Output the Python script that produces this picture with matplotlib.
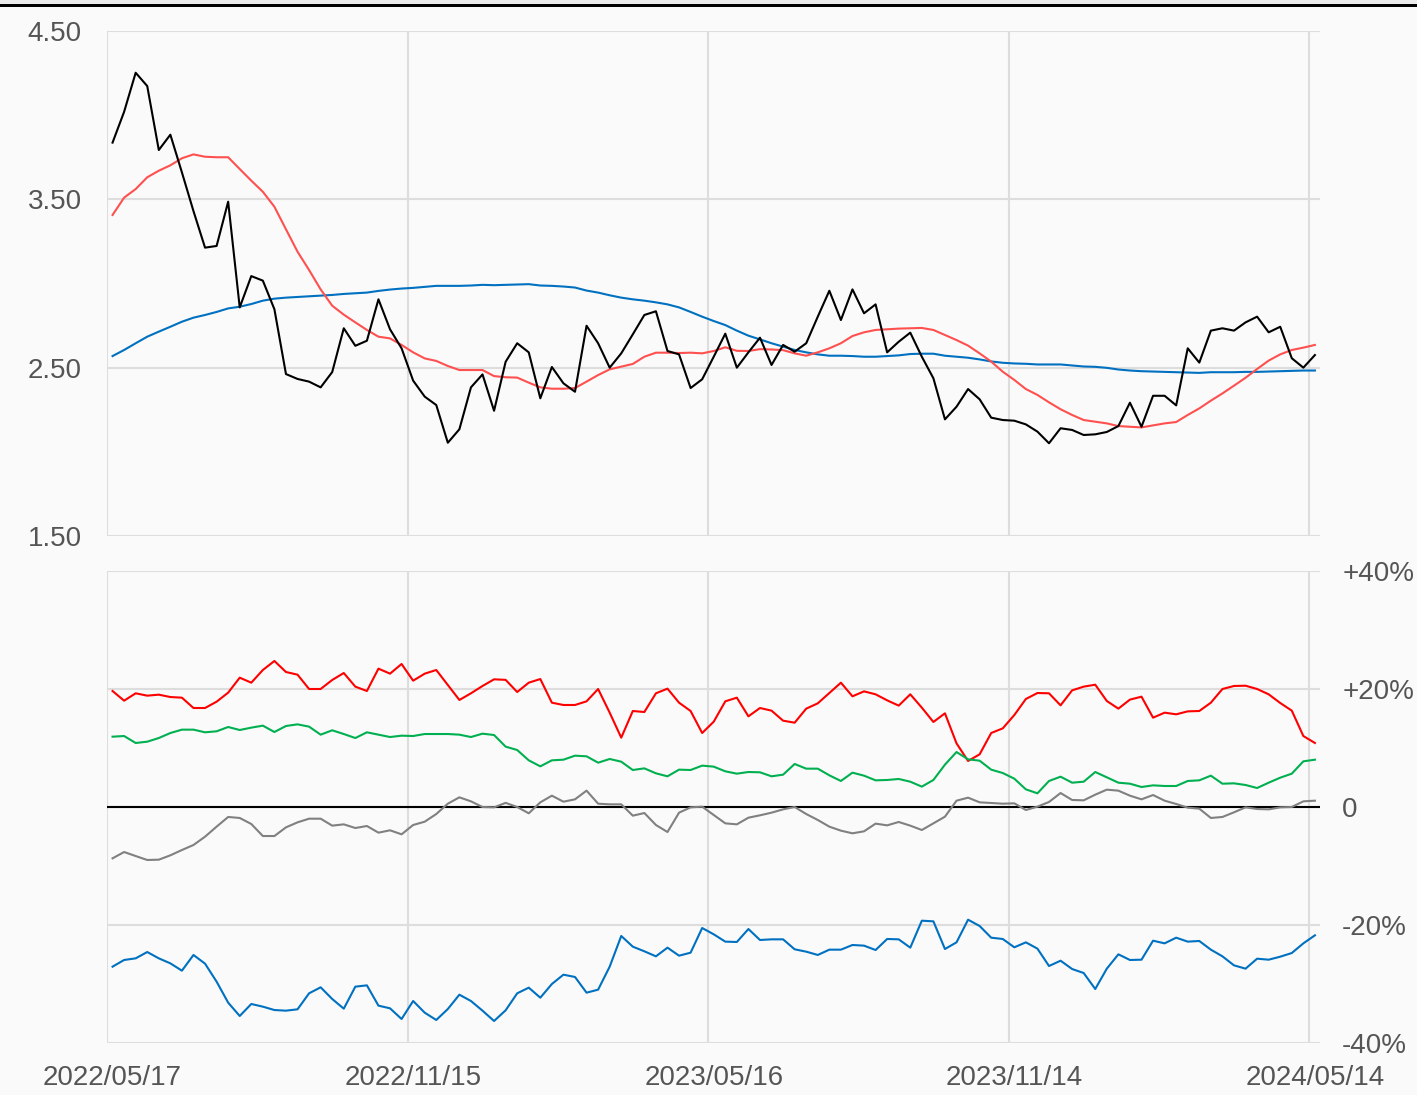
import matplotlib
matplotlib.use("Agg")
import matplotlib.pyplot as plt
import numpy as np

plt.rcParams['font.family'] = ['Liberation Sans', 'DejaVu Sans']

# weekly closes and moving averages (top panel)
price = [3.837, 4.02, 4.252, 4.173, 3.793, 3.884, 3.66, 3.43, 3.213, 3.223,
         3.486, 2.858, 3.044, 3.017, 2.847, 2.462, 2.433, 2.417, 2.383, 2.474,
         2.734, 2.630, 2.66, 2.906, 2.728, 2.615, 2.423, 2.328, 2.278, 2.054,
         2.134, 2.383, 2.46, 2.244, 2.535, 2.645, 2.591, 2.318, 2.504, 2.407,
         2.357, 2.749, 2.645, 2.50, 2.585, 2.698, 2.813, 2.835, 2.599, 2.579,
         2.379, 2.431, 2.565, 2.702, 2.50, 2.591, 2.678, 2.516, 2.635, 2.595,
         2.645, 2.803, 2.957, 2.783, 2.965, 2.823, 2.876, 2.591, 2.654, 2.708,
         2.565, 2.437, 2.193, 2.268, 2.373, 2.312, 2.203, 2.189, 2.185, 2.163,
         2.120, 2.051, 2.14, 2.130, 2.10, 2.104, 2.118, 2.153, 2.292, 2.149,
         2.333, 2.333, 2.276, 2.615, 2.53, 2.72, 2.734, 2.72, 2.769, 2.803,
         2.71, 2.743, 2.556, 2.50, 2.575]
ma_short = [3.407, 3.51, 3.561, 3.631, 3.67, 3.702, 3.744, 3.767, 3.753, 3.75,
            3.75, 3.68, 3.611, 3.545, 3.456, 3.322, 3.189, 3.08, 2.965, 2.868,
            2.815, 2.769, 2.724, 2.684, 2.674, 2.635, 2.591, 2.555, 2.54, 2.51,
            2.486, 2.486, 2.486, 2.45, 2.443, 2.441, 2.411, 2.383, 2.375, 2.375,
            2.379, 2.417, 2.456, 2.49, 2.506, 2.522, 2.565, 2.589, 2.589, 2.587,
            2.589, 2.585, 2.599, 2.621, 2.60, 2.599, 2.61, 2.608, 2.604, 2.585,
            2.571, 2.591, 2.615, 2.645, 2.688, 2.71, 2.724, 2.728, 2.732, 2.734,
            2.736, 2.724, 2.694, 2.664, 2.631, 2.585, 2.536, 2.476, 2.427, 2.373,
            2.338, 2.294, 2.253, 2.219, 2.189, 2.179, 2.169, 2.153, 2.149, 2.145,
            2.157, 2.169, 2.177, 2.219, 2.258, 2.304, 2.347, 2.393, 2.44, 2.492,
            2.542, 2.579, 2.605, 2.619, 2.635]
ma_long = [2.569, 2.605, 2.645, 2.684, 2.714, 2.743, 2.773, 2.797, 2.813, 2.831,
           2.852, 2.862, 2.878, 2.898, 2.91, 2.916, 2.92, 2.924, 2.928, 2.932,
           2.938, 2.942, 2.946, 2.956, 2.964, 2.97, 2.974, 2.98, 2.986, 2.986,
           2.986, 2.988, 2.992, 2.99, 2.992, 2.994, 2.996, 2.988, 2.986, 2.982,
           2.976, 2.958, 2.946, 2.930, 2.916, 2.906, 2.898, 2.888, 2.876, 2.858,
           2.831, 2.803, 2.777, 2.753, 2.72, 2.69, 2.668, 2.645, 2.625, 2.605,
           2.591, 2.579, 2.571, 2.571, 2.569, 2.565, 2.565, 2.569, 2.573, 2.581,
           2.583, 2.583, 2.571, 2.565, 2.559, 2.549, 2.537, 2.529, 2.525, 2.523,
           2.519, 2.519, 2.519, 2.513, 2.507, 2.505, 2.499, 2.489, 2.483, 2.479,
           2.477, 2.475, 2.473, 2.471, 2.469, 2.473, 2.473, 2.473, 2.475, 2.475,
           2.477, 2.479, 2.481, 2.483, 2.483]

# deviation series in percent (bottom panel)
dev_red = [19.66, 18.02, 19.27, 18.87, 19.04, 18.64, 18.53, 16.78, 16.78, 17.85,
           19.38, 21.92, 21.07, 23.22, 24.75, 22.88, 22.43, 20.0, 20.0, 21.53,
           22.71, 20.4, 19.66, 23.45, 22.6, 24.24, 21.41, 22.6, 23.22, 20.68,
           18.14, 19.27, 20.51, 21.64, 21.55, 19.49, 21.07, 21.69, 17.68, 17.29,
           17.29, 17.91, 20.0, 15.99, 11.75, 16.27, 16.1, 19.27, 20.06, 17.68,
           16.27, 12.54, 14.46, 17.91, 18.53, 15.37, 16.78, 16.33, 14.63, 14.29,
           16.67, 17.57, 19.32, 21.07, 18.76, 19.6, 19.1, 18.08, 17.18, 19.1,
           16.84, 14.41, 15.88, 10.79, 7.8, 8.93, 12.54, 13.33, 15.59, 18.31,
           19.32, 19.27, 17.23, 19.77, 20.4, 20.73, 17.97, 16.67, 18.2, 18.7,
           15.14, 15.99, 15.71, 16.21, 16.27, 17.68, 20.0, 20.51, 20.56, 20.0,
           19.1, 17.63, 16.33, 12.03, 10.85]
dev_green = [11.92, 12.03, 10.85, 11.07, 11.69, 12.54, 13.11, 13.11, 12.66, 12.83,
             13.56, 13.05, 13.45, 13.79, 12.71, 13.73, 14.01, 13.62, 12.26, 13.0,
             12.37, 11.69, 12.66, 12.26, 11.86, 12.09, 12.03, 12.37, 12.37, 12.37,
             12.26, 11.86, 12.43, 12.2, 10.23, 9.66, 7.91, 6.89, 7.91, 8.02,
             8.7, 8.59, 7.51, 8.14, 7.68, 6.27, 6.55, 5.71, 5.2, 6.33,
             6.27, 7.01, 6.84, 6.05, 5.65, 5.93, 5.88, 5.2, 5.48, 7.29,
             6.5, 6.5, 5.37, 4.41, 5.82, 5.31, 4.52, 4.58, 4.75, 4.29,
             3.45, 4.58, 7.18, 9.32, 8.08, 7.85, 6.33, 5.76, 4.8, 2.99,
             2.32, 4.41, 5.14, 4.12, 4.29, 5.93, 5.03, 4.12, 3.95, 3.39,
             3.67, 3.56, 3.56, 4.41, 4.52, 5.31, 3.95, 4.01, 3.73, 3.22,
             4.12, 4.97, 5.65, 7.74, 8.02]
dev_gray = [-8.7, -7.63, -8.31, -8.98, -8.93, -8.19, -7.29, -6.44, -5.03, -3.33,
            -1.69, -1.86, -2.88, -4.92, -4.92, -3.45, -2.6, -1.98, -1.98, -3.16,
            -2.94, -3.56, -3.22, -4.35, -3.95, -4.63, -3.05, -2.49, -1.19, 0.56,
            1.64, 0.96, 0.0, -0.06, 0.7, 0.0, -1.07, 0.79, 1.92, 0.9,
            1.3, 2.77, 0.56, 0.45, 0.45, -1.47, -1.02, -3.05, -4.24, -0.96,
            -0.06, 0.06, -1.36, -2.77, -2.94, -1.81, -1.41, -0.96, -0.4, 0.0,
            -1.19, -2.2, -3.33, -4.01, -4.46, -4.12, -2.82, -3.11, -2.54, -3.16,
            -3.9, -2.77, -1.64, 1.07, 1.58, 0.79, 0.68, 0.56, 0.62, -0.51,
            0.06, 0.85, 2.37, 1.19, 1.13, 2.09, 2.94, 2.77, 1.92, 1.3,
            2.03, 1.07, 0.51, -0.11, -0.28, -1.86, -1.69, -0.9, -0.06, -0.34,
            -0.4, -0.06, 0.0, 0.96, 1.07]
dev_blue = [-27.06, -25.93, -25.65, -24.58, -25.65, -26.5, -27.74, -25.08, -26.55, -29.6,
            -33.16, -35.42, -33.39, -33.84, -34.41, -34.52, -34.29, -31.58, -30.56, -32.54,
            -34.18, -30.45, -30.23, -33.67, -34.12, -35.93, -32.88, -34.86, -36.1, -34.24,
            -31.81, -32.88, -34.52, -36.27, -34.46, -31.58, -30.62, -32.32, -30.0, -28.42,
            -28.81, -31.47, -30.96, -27.06, -21.86, -23.67, -24.46, -25.31, -23.84, -25.2,
            -24.69, -20.51, -21.58, -22.82, -22.88, -20.68, -22.54, -22.43, -22.43, -24.12,
            -24.52, -25.08, -24.18, -24.18, -23.39, -23.5, -24.24, -22.37, -22.43, -23.84,
            -19.27, -19.38, -24.07, -22.94, -19.1, -20.17, -22.15, -22.37, -23.78, -22.94,
            -24.01, -26.95, -26.05, -27.46, -28.14, -30.85, -27.4, -24.97, -25.93, -25.88,
            -22.66, -23.11, -22.15, -22.82, -22.71, -24.18, -25.31, -26.84, -27.4, -25.71,
            -25.88, -25.37, -24.75, -23.11, -21.75]

date_labels = ['2022/05/17', '2022/11/15', '2023/05/16', '2023/11/14', '2024/05/14']
label_idx = [0, 26, 52, 78, 104]

BG = '#fafafa'
GRID = '#dddddd'
TXT = '#555555'

x = np.arange(len(price)) + 0.48
grid_x = np.array(label_idx, dtype=float)

fig = plt.figure(figsize=(14.17, 10.95), dpi=100, facecolor=BG)
# top band
fig.patches.append(plt.Rectangle((0, 1 - 4 / 1095), 1, 4 / 1095, transform=fig.transFigure,
                                 facecolor='#ebebeb', edgecolor='none'))
fig.patches.append(plt.Rectangle((0, 1 - 7 / 1095), 1, 3 / 1095, transform=fig.transFigure,
                                 facecolor='black', edgecolor='none'))

ax1 = fig.add_axes([107 / 1417, 1 - 536 / 1095, 1213 / 1417, 505 / 1095])
ax2 = fig.add_axes([107 / 1417, 1 - 1043 / 1095, 1213 / 1417, 472 / 1095])

for ax in (ax1, ax2):
    ax.set_facecolor(BG)
    for s in ax.spines.values():
        s.set_visible(False)
    ax.set_xlim(0, 104.92)
    for gx in grid_x:
        ax.axvline(gx, color=GRID, lw=1.5, zorder=0)
    ax.tick_params(length=0, colors=TXT, labelsize=20)

# top panel
ax1.set_ylim(1.5, 4.5)
ax1.set_yticks([1.5, 2.5, 3.5, 4.5])
ax1.set_yticklabels(['1.50', '2.50', '3.50', '4.50'])
ax1.yaxis.grid(True, color=GRID, lw=1.5, zorder=0)
ax1.tick_params(axis='y', pad=18)
ax1.set_xticks([])
ax1.plot(x, ma_long, color='#0070c0', lw=1.5, zorder=3)
ax1.plot(x, ma_short, color='#ff5050', lw=1.5, zorder=4)
ax1.plot(x, price, color='black', lw=1.5, zorder=5)

# bottom panel
ax2.set_ylim(-40, 40)
ax2.set_yticks([-40, -20, 0, 20, 40])
ax2.set_yticklabels(['-40%', '-20%', '0', '+20%', '+40%'])
ax2.yaxis.tick_right()
ax2.tick_params(axis='y', pad=16)
ax2.yaxis.grid(True, color=GRID, lw=1.5, zorder=0)
ax2.axhline(0, color='black', lw=1.5, zorder=2)
ax2.plot(x, dev_red, color='#ff0000', lw=1.5, zorder=4)
ax2.plot(x, dev_green, color='#00b050', lw=1.5, zorder=4)
ax2.plot(x, dev_gray, color='#808080', lw=1.5, zorder=4)
ax2.plot(x, dev_blue, color='#0070c0', lw=1.5, zorder=4)
ax2.set_xticks(x[label_idx])
ax2.set_xticklabels(date_labels)
ax2.tick_params(axis='x', pad=16)

fig.savefig('out.png', dpi=100, facecolor=BG)
